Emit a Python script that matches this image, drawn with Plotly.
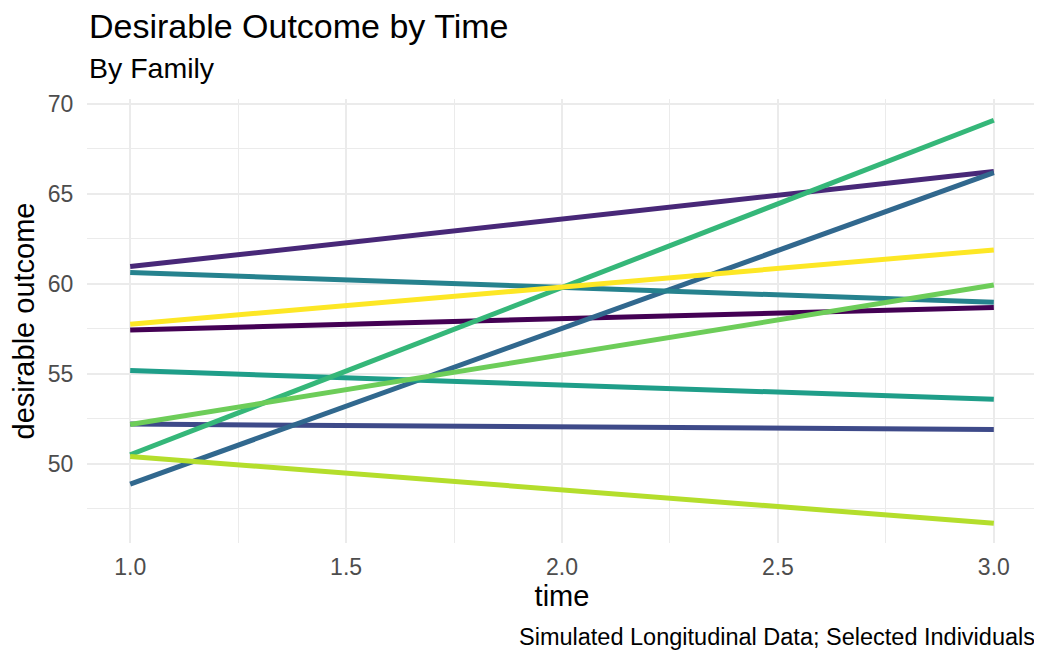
import plotly.graph_objects as go

time = [1.0, 3.0]
families = ["1", "2", "3", "4", "5", "6", "7", "8", "9", "10"]
start_vals = [57.43, 60.95, 52.2, 48.87, 60.62, 55.17, 50.5, 52.18, 50.4, 57.75]
end_vals = [58.68, 66.22, 51.9, 66.16, 58.96, 53.58, 69.07, 59.92, 46.7, 61.87]
colors = ["#440154", "#482878", "#3E4A89", "#31688E", "#26828E",
          "#1F9E89", "#35B779", "#6DCD59", "#B4DE2C", "#FDE725"]
x_ticks = [1.0, 1.5, 2.0, 2.5, 3.0]
x_minor = [1.25, 1.75, 2.25, 2.75]
y_ticks = [50, 55, 60, 65, 70]
y_minor = [47.5, 52.5, 57.5, 62.5, 67.5]

fig = go.Figure()
for fam, s, e, c in zip(families, start_vals, end_vals, colors):
    fig.add_trace(go.Scatter(x=time, y=[s, e], mode="lines", name=fam,
                             line=dict(color=c, width=5), showlegend=False))

font = "Liberation Sans, Arial, sans-serif"
T, B, L, R = 90.5, 119.6, 79, 13
plot_h = 655 - T - B


def py(pix):
    """figure pixel (from top) -> paper y"""
    return 1 - (pix - T) / plot_h


fig.update_layout(
    width=1042, height=655,
    margin=dict(l=L, r=R, t=T, b=B, pad=0),
    plot_bgcolor="white", paper_bgcolor="white",
    font=dict(family=font, color="black"),
    xaxis=dict(range=[0.9, 3.1], tickvals=x_ticks,
               ticktext=["%.1f" % v for v in x_ticks],
               showgrid=True, gridcolor="#EBEBEB", gridwidth=2,
               minor=dict(showgrid=True, gridcolor="#EBEBEB", gridwidth=1,
                          tickvals=x_minor),
               zeroline=False, showline=False, automargin=False,
               tickfont=dict(size=23, color="#4D4D4D"),
               ticks="outside", ticklen=3, tickcolor="rgba(0,0,0,0)",
               title=dict(text="time", font=dict(size=29), standoff=4)),
    yaxis=dict(range=[45.6, 70.25], tickvals=y_ticks,
               showgrid=True, gridcolor="#EBEBEB", gridwidth=2,
               minor=dict(showgrid=True, gridcolor="#EBEBEB", gridwidth=1,
                          tickvals=y_minor),
               zeroline=False, showline=False, automargin=False,
               tickfont=dict(size=23, color="#4D4D4D"),
               ticks="outside", ticklen=8, tickcolor="rgba(0,0,0,0)",
               title=dict(text="desirable outcome", font=dict(size=29), standoff=4)),
    annotations=[
        dict(text="Desirable Outcome by Time", x=0, xref="paper", xanchor="left",
             y=py(17), yref="paper", yanchor="middle", showarrow=False,
             font=dict(size=34)),
        dict(text="By Family", x=0, xref="paper", xanchor="left",
             y=py(59), yref="paper", yanchor="middle", showarrow=False,
             font=dict(size=28.5)),
        dict(text="Simulated Longitudinal Data; Selected Individuals",
             x=1, xref="paper", xanchor="right", y=py(630), yref="paper",
             yanchor="middle", showarrow=False, font=dict(size=23.5)),
    ],
)

fig.write_html("out.html")
